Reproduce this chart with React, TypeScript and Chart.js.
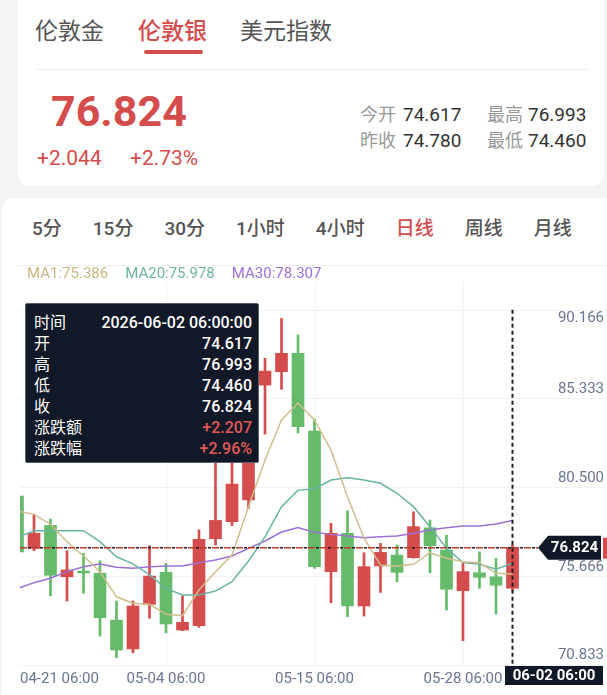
import React, { useEffect, useRef } from "react";
import { Chart, registerables } from "chart.js";
Chart.register(...registerables);

const dates = [
  "04-21 06:00", "04-22 06:00", "04-23 06:00", "04-24 06:00", "04-27 06:00", "04-28 06:00",
  "04-29 06:00", "04-30 06:00", "05-01 06:00", "05-04 06:00", "05-05 06:00", "05-06 06:00",
  "05-07 06:00", "05-08 06:00", "05-11 06:00", "05-12 06:00", "05-13 06:00", "05-14 06:00",
  "05-15 06:00", "05-18 06:00", "05-19 06:00", "05-20 06:00", "05-21 06:00", "05-22 06:00",
  "05-25 06:00", "05-26 06:00", "05-27 06:00", "05-28 06:00", "05-29 06:00", "06-01 06:00",
  "06-02 06:00",
];
const opens = [79.64, 76.79, 78.04, 75.24, 75.55, 75.43, 72.88, 71.31, 73.74, 75.48, 72.34, 72.58, 77.31, 78.24, 79.42, 85.68, 86.41, 87.41, 83.18, 75.52, 77.61, 73.65, 75.83, 76.42, 76.28, 77.91, 76.70, 74.48, 75.46, 75.24, 74.617];
const highs = [79.90, 78.64, 78.38, 76.66, 76.52, 76.11, 73.92, 73.92, 76.93, 75.97, 74.19, 77.79, 81.80, 82.20, 86.60, 87.14, 89.31, 88.41, 83.83, 78.15, 78.84, 76.55, 77.06, 76.97, 78.78, 78.33, 77.51, 75.97, 76.60, 76.24, 76.993];
const lows = [76.40, 76.66, 74.21, 73.92, 74.34, 72.01, 70.83, 71.10, 72.98, 72.19, 72.31, 72.49, 76.97, 78.02, 78.97, 83.01, 85.45, 83.08, 75.70, 73.83, 73.07, 73.10, 74.39, 74.97, 76.25, 75.46, 73.43, 71.76, 74.61, 73.21, 74.460];
const closes = [76.59, 77.61, 75.32, 75.61, 75.45, 73.01, 71.25, 73.65, 75.28, 72.67, 72.76, 77.28, 78.31, 80.29, 86.00, 86.44, 87.41, 83.41, 75.79, 77.61, 73.65, 75.79, 76.57, 75.48, 77.97, 76.93, 74.56, 75.52, 75.21, 74.78, 76.824];
const ma5 = [78.82, 78.64, 78.10, 77.15, 76.37, 75.52, 74.15, 73.80, 73.74, 73.20, 73.12, 74.52, 75.52, 76.42, 79.06, 81.60, 83.78, 84.70, 83.78, 82.14, 79.58, 77.35, 75.88, 75.83, 75.92, 76.55, 76.25, 76.06, 76.01, 75.43, 75.386];
const ma20 = [77.38, 77.75, 77.75, 77.75, 77.75, 77.15, 76.33, 75.94, 75.34, 74.61, 74.25, 74.25, 74.46, 74.97, 76.10, 77.41, 79.06, 79.96, 80.02, 80.51, 80.64, 80.51, 80.33, 79.79, 79.06, 77.97, 76.79, 76.01, 75.92, 75.65, 75.978];
const ma30 = [74.60, 74.92, 75.16, 75.52, 75.79, 75.94, 75.76, 75.70, 75.79, 75.83, 75.83, 76.01, 76.15, 76.37, 76.79, 77.19, 77.68, 77.92, 77.66, 77.55, 77.46, 77.37, 77.42, 77.46, 77.61, 77.79, 77.91, 78.00, 78.00, 78.11, 78.307];
const yTickLabels = ["90.166", "85.333", "80.500", "75.666", "70.833"];
const xTickIndex = [0, 9, 18, 27];
const crossIndex = 30;

const RED = "#d44c4c";
const GREEN = "#66bb6a";
const AXIS_TEXT = "#687693";
const DARK = "#111827";
const GRID_SHIFT = 7;

const overlayPlugin = {
  id: "overlay",
  beforeDatasetsDraw(chart: any) {
    const { ctx, chartArea, scales } = chart;
    const x = scales.x, y = scales.y;
    ctx.save();
    ctx.strokeStyle = "#f1f2f4";
    ctx.lineWidth = 1;
    ctx.beginPath();
    for (const t of xTickIndex) {
      const px = Math.round(x.getPixelForValue(t)) + 0.5;
      if (px < chartArea.left || px > chartArea.right) continue;
      ctx.moveTo(px, chartArea.top);
      ctx.lineTo(px, chartArea.bottom);
    }
    for (const l of yTickLabels) {
      const py = Math.round(y.getPixelForValue(parseFloat(l)) + GRID_SHIFT) + 0.5;
      ctx.moveTo(chartArea.left, py);
      ctx.lineTo(chart.width, py);
    }
    ctx.stroke();
    ctx.restore();
  },
  afterDatasetsDraw(chart: any) {
    const { ctx, chartArea, scales } = chart;
    const x = scales.x, y = scales.y;
    const W = chart.width;
    ctx.save();
    ctx.font = "15px Roboto";
    ctx.fillStyle = AXIS_TEXT;
    ctx.textAlign = "right";
    ctx.textBaseline = "middle";
    const gridTop = y.getPixelForValue(parseFloat(yTickLabels[0])) + GRID_SHIFT;
    for (const l of yTickLabels) {
      const p = y.getPixelForValue(parseFloat(l));
      let ly = p - 2;
      if (ly < gridTop) ly = p + GRID_SHIFT + 9;
      ctx.fillText(l, W - 3, ly);
    }
    ctx.textAlign = "left";
    for (const t of xTickIndex) {
      const label = dates[t];
      const w = ctx.measureText(label).width;
      let lx = x.getPixelForValue(t) - w / 2;
      if (lx < chartArea.left) lx = chartArea.left;
      ctx.fillText(label, lx, chartArea.bottom + 14);
    }
    const cx = x.getPixelForValue(crossIndex);
    const last = closes[closes.length - 1];
    const py = y.getPixelForValue(last);
    const tagRight = W - 6;
    const tagTip = tagRight - 63;
    ctx.lineWidth = 1.5;
    ctx.strokeStyle = "#c0392b";
    ctx.setLineDash([7, 5]);
    ctx.beginPath();
    ctx.moveTo(chartArea.left, py);
    ctx.lineTo(tagTip, py);
    ctx.stroke();
    ctx.strokeStyle = "#1a1a1a";
    ctx.setLineDash([3, 9]);
    ctx.lineDashOffset = -8;
    ctx.beginPath();
    ctx.moveTo(chartArea.left, py);
    ctx.lineTo(tagTip, py);
    ctx.stroke();
    ctx.lineWidth = 2;
    ctx.lineDashOffset = 0;
    ctx.setLineDash([4, 3]);
    ctx.strokeStyle = "#222";
    ctx.beginPath();
    ctx.moveTo(cx, gridTop);
    ctx.lineTo(cx, chartArea.bottom);
    ctx.stroke();
    ctx.setLineDash([]);
    ctx.fillStyle = RED;
    ctx.fillRect(W - 4, py - 10, 4, 21);
    ctx.fillStyle = DARK;
    ctx.beginPath();
    ctx.moveTo(tagTip, py);
    ctx.lineTo(tagTip + 10, py - 12);
    ctx.lineTo(tagRight, py - 12);
    ctx.lineTo(tagRight, py + 12);
    ctx.lineTo(tagTip + 10, py + 12);
    ctx.closePath();
    ctx.fill();
    ctx.fillStyle = "#ffffff";
    ctx.font = "bold 15px Roboto";
    ctx.textAlign = "center";
    ctx.fillText(last.toFixed(3), (tagTip + 10 + tagRight) / 2, py + 0.5);
    const bx = cx - 7.5;
    const bw = 98;
    ctx.fillStyle = DARK;
    ctx.fillRect(bx, chartArea.bottom + 1, bw, 19);
    ctx.fillStyle = "#ffffff";
    ctx.fillText(dates[crossIndex], bx + bw / 2, chartArea.bottom + 11);
    ctx.restore();
  },
};

function CandleChart() {
  const ref = useRef<HTMLCanvasElement | null>(null);
  useEffect(() => {
    if (!ref.current) return;
    const colors = closes.map((c, i) => (c >= opens[i] ? RED : GREEN));
    const line = (data: number[], color: string) => ({
      type: "line" as const,
      data: data.map((v, i) => ({ x: i, y: v })),
      borderColor: color,
      borderWidth: 1.5,
      pointRadius: 0,
      tension: 0,
      order: 0,
    });
    const chart = new Chart(ref.current, {
      type: "bar",
      data: {
        datasets: [
          line(ma5, "#d0bd8c"),
          line(ma20, "#6db3a5"),
          line(ma30, "#9c70d6"),
          {
            type: "bar",
            data: opens.map((o, i) => ({ x: i, y: [o, closes[i]] })) as any,
            backgroundColor: colors,
            barThickness: 12,
            grouped: false,
            borderWidth: 0,
            order: 1,
          } as any,
          {
            type: "bar",
            data: lows.map((l, i) => ({ x: i, y: [l, highs[i]] })) as any,
            backgroundColor: colors,
            barThickness: 2,
            grouped: false,
            borderWidth: 0,
            order: 2,
          } as any,
        ],
      },
      options: {
        animation: false,
        responsive: false,
        maintainAspectRatio: false,
        events: [],
        layout: { padding: { left: 20, right: 2, top: 17, bottom: 30 } },
        plugins: { legend: { display: false }, tooltip: { enabled: false } },
        scales: {
          x: { type: "linear", min: 0.1515, max: 35.606, display: false, offset: false },
          y: { type: "linear", min: 70.435, max: 91.296, display: false },
        },
      } as any,
      plugins: [overlayPlugin],
    });
    return () => chart.destroy();
  }, []);
  return (
    <canvas
      ref={ref}
      width={607}
      height={430}
      style={{ position: "absolute", left: 0, top: 265, width: 607, height: 430 }}
    />
  );
}

const tabs = ["伦敦金", "伦敦银", "美元指数"];
const periods = ["5分", "15分", "30分", "1小时", "4小时", "日线", "周线", "月线"];
const tipRows: [string, string, boolean][] = [
  ["时间", "2026-06-02 06:00:00", false],
  ["开", "74.617", false],
  ["高", "76.993", false],
  ["低", "74.460", false],
  ["收", "76.824", false],
  ["涨跌额", "+2.207", true],
  ["涨跌幅", "+2.96%", true],
];

export default function App() {
  const font = "Roboto, 'Noto Sans CJK SC', sans-serif";
  const abs = (s: any) => ({ position: "absolute" as const, whiteSpace: "nowrap" as const, ...s });
  return (
    <div style={abs({ left: 0, top: 0, width: 607, height: 695, background: "#f4f4f5", overflow: "hidden", fontFamily: font })}>
      <div style={abs({ left: 18, top: -12, width: 586, height: 198, background: "#fff", borderRadius: 12 })} />
      {tabs.map((t, i) => (
        <div key={t} style={abs({ left: [35, 138, 240][i], top: 19, fontSize: 23, lineHeight: "26px", color: i === 1 ? RED : "#555", fontWeight: i === 1 ? 500 : 400 })}>{t}</div>
      ))}
      <div style={abs({ left: 144, top: 50, width: 59, height: 4, borderRadius: 2, background: RED })} />
      <div style={abs({ left: 37, top: 69, width: 551, height: 1, background: "#ececec" })} />
      <div style={abs({ left: 51, top: 89, fontSize: 43, lineHeight: "44px", fontWeight: 700, color: RED })}>76.824</div>
      <div style={abs({ left: 37, top: 146, fontSize: 21, lineHeight: "24px", color: RED })}>+2.044</div>
      <div style={abs({ left: 130, top: 146, fontSize: 21, lineHeight: "24px", color: RED })}>+2.73%</div>
      {[
        ["今开", "74.617", 360, 403, 104],
        ["最高", "76.993", 487, 528, 104],
        ["昨收", "74.780", 360, 403, 130],
        ["最低", "74.460", 487, 528, 130],
      ].map(([l, v, lx, vx, ty]) => (
        <React.Fragment key={l as string}>
          <div style={abs({ left: lx, top: ty, fontSize: 18, lineHeight: "22px", color: "#999" })}>{l}</div>
          <div style={abs({ left: vx, top: (ty as number) - 0.5, fontSize: 19, lineHeight: "22px", color: "#333" })}>{v}</div>
        </React.Fragment>
      ))}
      <div style={abs({ left: 2, top: 198, width: 620, height: 520, background: "#fff", borderRadius: 12 })} />
      <div style={abs({ left: 32, top: 217, display: "flex", gap: 31, fontSize: 19, lineHeight: "24px", fontWeight: 500 })}>
        {periods.map((p) => (
          <span key={p} style={{ color: p === "日线" ? RED : "#555" }}>{p}</span>
        ))}
      </div>
      <div style={abs({ left: 17, top: 265, width: 590, height: 1, background: "#f0f0f0" })} />
      <CandleChart />
      <div style={abs({ left: 27, top: 264, display: "flex", gap: 17, fontSize: 15, lineHeight: "18px" })}>
        <span style={{ color: "#c9b682" }}>MA1:75.386</span>
        <span style={{ color: "#6fb3a5" }}>MA20:75.978</span>
        <span style={{ color: "#9c70d6" }}>MA30:78.307</span>
      </div>
      <div style={abs({ left: 25, top: 303, width: 234, height: 160, boxSizing: "border-box", background: DARK, border: "1px solid #5b6270", borderRadius: 2, padding: "8px 6px 0 8px" })}>
        {tipRows.map(([k, v, red]) => (
          <div key={k} style={{ display: "flex", justifyContent: "space-between", height: 21, lineHeight: "21px", fontSize: 16, color: "#fff" }}>
            <span>{k}</span>
            <span style={{ fontWeight: 500, color: red ? "#e05a55" : "#fff" }}>{v}</span>
          </div>
        ))}
      </div>
    </div>
  );
}
